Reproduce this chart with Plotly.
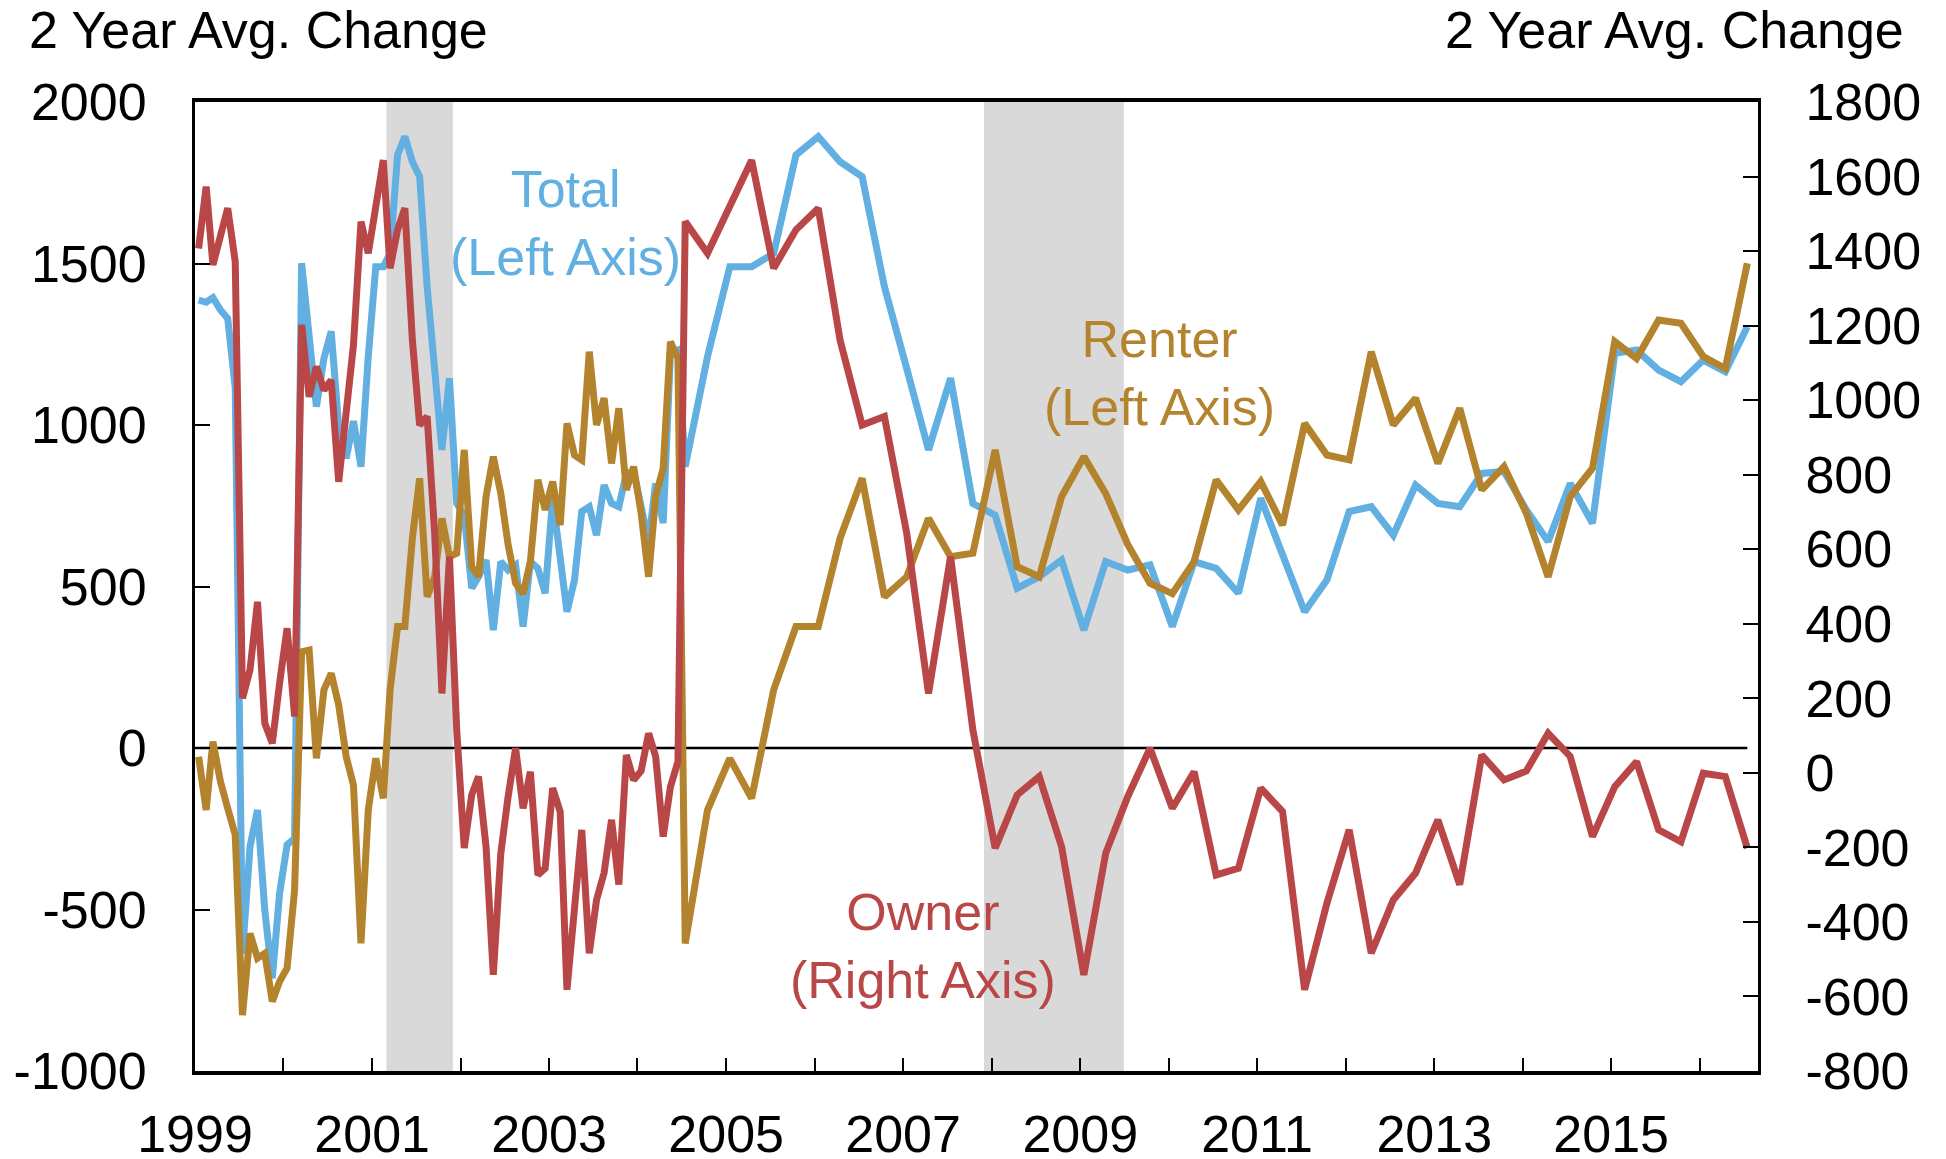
import plotly.graph_objects as go

# ---------------- data ----------------
# Monthly observations (Jan 1999 - Jun 2004), plotted mid-month
monthly_dates = [f"{1999 + i // 12}-{i % 12 + 1:02d}-16" for i in range(66)]
# Quarterly observations (Jul 2004 - Jul 2016)
quarterly_dates = [f"{2004 + (6 + 3 * k) // 12}-{(6 + 3 * k) % 12 + 1:02d}-16" for k in range(49)]

total_monthly = [1387, 1380, 1394, 1356, 1330, 1115, -636, -305, -192, -502, -713, -450,
                 -300, -280, 1501, 1299, 1057, 1206, 1290, 995, 897, 1012,
                 871, 1212, 1490, 1490, 1531, 1836, 1893, 1815, 1769, 1428, 1175, 923,
                 1145, 757, 721, 495, 530, 582, 365, 577, 551, 567, 376, 577,
                 556, 479, 773, 592, 422, 520, 732, 747, 659, 814, 757, 747,
                 850, 856, 737, 639, 819, 696, 1222, 1232]
total_quarterly = [871, 1212, 1490, 1490, 1531, 1836, 1893, 1815, 1769, 1428, 1175, 923,
                   1145, 757, 721, 495, 530, 582, 365, 577, 551, 567, 376, 577,
                   556, 479, 773, 592, 422, 520, 732, 747, 659, 814, 757, 747,
                   850, 856, 737, 639, 819, 696, 1222, 1232, 1170, 1134, 1201, 1165, 1304]

renter_monthly = [-27, -192, 20, -104, -187, -269, -827, -574, -651, -636, -785, -723,
                  -682, -440, 298, 303, -32, 180, 231, 133, -27, -115,
                  -605, -192, -32, -156, 180, 376, 376, 649, 835, 468, 530, 711,
                  592, 603, 923, 561, 530, 778, 902, 788, 630, 510, 478, 577,
                  830, 737, 825, 690, 1005, 907, 892, 1227, 1000, 1083, 881, 1052,
                  799, 871, 727, 530, 778, 866, 1258, 1206]
renter_quarterly = [-605, -192, -32, -156, 180, 376, 376, 649, 835, 468, 530, 711,
                    592, 603, 923, 561, 530, 778, 902, 788, 630, 510, 478, 577,
                    830, 737, 825, 690, 1005, 907, 892, 1227, 1000, 1083, 881, 1052,
                    799, 871, 727, 530, 778, 866, 1258, 1206, 1325, 1315, 1212, 1175, 1501]

owner_monthly = [1407, 1573, 1363, 1439, 1515, 1372, 200, 276, 459, 133, 79, 240,
                 388, 151, 1202, 1009, 1090, 1027, 1054, 781, 969, 1148,
                 1479, 1394, 1519, 1644, 1354, 1457, 1515, 1161, 933, 956, 643, 213,
                 580, 115, -202, -59, -10, -198, -542, -216, -64, 66, -95, 3,
                 -274, -256, -41, -104, -582, -350, -153, -484, -341, -269, -126, -300,
                 48, -19, 5, 106, 44, -171, -37, 30]
owner_quarterly = [1479, 1394, 1519, 1644, 1354, 1457, 1515, 1161, 933, 956, 643, 213,
                   580, 115, -202, -59, -10, -198, -542, -216, -64, 66, -95, 3,
                   -274, -256, -41, -104, -582, -350, -153, -484, -341, -269, -126, -300,
                   48, -19, 5, 106, 44, -171, -37, 30, -153, -185, -1, -10, -202]

recessions = [("2001-03-01", "2001-11-30"), ("2007-12-01", "2009-06-30")]
year_ticks = list(range(1999, 2017))
left_ticks = [-1000, -500, 0, 500, 1000, 1500, 2000]
right_ticks = [-800, -600, -400, -200, 0, 200, 400, 600, 800, 1000, 1200, 1400, 1600, 1800]

dates = monthly_dates + quarterly_dates
total = total_monthly + total_quarterly
renter = renter_monthly + renter_quarterly
owner = owner_monthly + owner_quarterly

# ---------------- style ----------------
# The page body adds an 8px offset, so the figure is 8px smaller and margins shifted.
OFF = 8
W, H = 1946 - OFF, 1159 - OFF
ML, MR, MT, MB = 195 - OFF, 188, 102 - OFF, 88
PW, PH = W - ML - MR, H - MT - MB
FONT = "Liberation Sans, Arial, Helvetica, sans-serif"
FS = 52
BLUE = "#62AFE2"
GOLD = "#B4832E"
RED = "#B94747"
LW = 7


def px_x(x):
    # x given in screen pixels of the final 1946-wide picture
    return (x - OFF - ML) / PW


def px_y(y):
    return (H - MB - (y - OFF)) / PH


fig = go.Figure()
fig.add_trace(go.Scatter(x=dates, y=total, mode="lines", line=dict(color=BLUE, width=LW),
                         name="Total", yaxis="y"))
fig.add_trace(go.Scatter(x=dates, y=renter, mode="lines", line=dict(color=GOLD, width=LW),
                         name="Renter", yaxis="y"))
fig.add_trace(go.Scatter(x=dates, y=owner, mode="lines", line=dict(color=RED, width=LW),
                         name="Owner", yaxis="y2"))

shapes = []
for s, e in recessions:
    shapes.append(dict(type="rect", xref="x", yref="paper", x0=s, x1=e, y0=0, y1=1,
                       fillcolor="#D9D9D9", line=dict(width=0), layer="below"))
shapes.append(dict(type="line", xref="x", yref="y", x0="1999-01-01", x1=dates[-1], y0=0, y1=0,
                   line=dict(color="black", width=2.5), layer="below"))

annotations = [
    dict(text="2 Year Avg. Change", xref="paper", yref="paper", x=px_x(27), y=px_y(30),
         xanchor="left", yanchor="middle", showarrow=False, font=dict(size=FS, color="black")),
    dict(text="2 Year Avg. Change", xref="paper", yref="paper", x=px_x(1906), y=px_y(30),
         xanchor="right", yanchor="middle", showarrow=False, font=dict(size=FS, color="black")),
    dict(text="Total<br>(Left Axis)", xref="paper", yref="paper", x=px_x(565), y=px_y(223),
         xanchor="center", yanchor="middle", showarrow=False, font=dict(size=FS, color=BLUE)),
    dict(text="Renter<br>(Left Axis)", xref="paper", yref="paper", x=px_x(1159), y=px_y(373),
         xanchor="center", yanchor="middle", showarrow=False, font=dict(size=FS, color=GOLD)),
    dict(text="Owner<br>(Right Axis)", xref="paper", yref="paper", x=px_x(923), y=px_y(946),
         xanchor="center", yanchor="middle", showarrow=False, font=dict(size=FS, color=RED)),
]

fig.update_layout(
    width=W, height=H,
    margin=dict(l=ML, r=MR, t=MT, b=MB, pad=0, autoexpand=False),
    paper_bgcolor="white", plot_bgcolor="white",
    showlegend=False,
    font=dict(family=FONT, size=FS, color="black"),
    shapes=shapes,
    annotations=annotations,
    xaxis=dict(
        type="date", range=["1999-01-01", "2016-08-29"],
        tickmode="array",
        tickvals=[f"{y}-01-01" for y in year_ticks],
        ticktext=[str(y) if y % 2 == 1 else "" for y in year_ticks],
        ticks="inside", ticklen=13, tickwidth=2, tickcolor="black",
        showline=True, linewidth=3.5, linecolor="black", mirror=True,
        showgrid=False, zeroline=False, automargin=False,
        tickfont=dict(size=FS, color="black", family=FONT),
        ticklabelstandoff=15,
    ),
    yaxis=dict(
        range=[-1000, 2000], tickmode="array",
        tickvals=left_ticks, ticktext=[str(v) for v in left_ticks],
        ticks="inside", ticklen=15, tickwidth=2, tickcolor="black",
        showline=True, linewidth=3, linecolor="black",
        showgrid=False, zeroline=False, automargin=False,
        tickfont=dict(size=FS, color="black", family=FONT),
        ticklabelstandoff=35,
    ),
    yaxis2=dict(
        range=[-800, 1800], tickmode="array",
        tickvals=right_ticks, ticktext=[str(v) for v in right_ticks],
        overlaying="y", side="right",
        ticks="inside", ticklen=15, tickwidth=2, tickcolor="black",
        showline=True, linewidth=3, linecolor="black",
        showgrid=False, zeroline=False, automargin=False,
        tickfont=dict(size=FS, color="black", family=FONT),
        ticklabelstandoff=34,
    ),
)

fig.write_html("out.html")
